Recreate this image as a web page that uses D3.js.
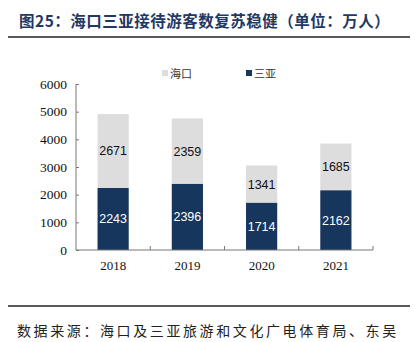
<!DOCTYPE html>
<html>
<head>
<meta charset="utf-8">
<script src="https://cdn.jsdelivr.net/npm/d3@7"></script>
<style>
  html, body { margin: 0; padding: 0; background: #fff; }
  svg { display: block; }
</style>
</head>
<body>
<svg id="chart" width="418" height="342"></svg>
<script>
// Visitor counts (10k people) received by Haikou and Sanya
const years = ["2018", "2019", "2020", "2021"];
const sanya = [2243, 2396, 1714, 2162];
const haikou = [2671, 2359, 1341, 1685];
const yTicks = [0, 1000, 2000, 3000, 4000, 5000, 6000];
const seriesNames = ["海口", "三亚"];

const W = 418, H = 342;
const svg = d3.select("#chart");
const colors = { "三亚": "#17365d", "海口": "#dddddd" };

const x = d3.scaleBand().domain(years).range([76, 373]).paddingInner(0.58).paddingOuter(0.29);
const y = d3.scaleLinear().domain([0, 6000]).range([250, 84]);

// Title
svg.append("text")
  .attr("x", 19).attr("y", 27)
  .attr("font-family", "'Noto Sans CJK SC', sans-serif")
  .attr("font-weight", "bold")
  .attr("font-size", 15.5)
  .attr("letter-spacing", 0.5)
  .attr("fill", "#1f3864")
  .text("图25：海口三亚接待游客数复苏稳健（单位：万人）");

svg.append("line").attr("x1", 8).attr("x2", 410).attr("y1", 37).attr("y2", 37)
  .attr("stroke", "#222").attr("stroke-width", 1.6);

// Legend
const legend = svg.append("g");
const legendX = [162, 246];
seriesNames.forEach((name, i) => {
  legend.append("rect").attr("x", legendX[i]).attr("y", 70).attr("width", 6).attr("height", 6)
    .attr("fill", colors[name]);
  legend.append("text").attr("x", legendX[i] + 8).attr("y", 77.5)
    .attr("font-family", "'Noto Sans CJK SC', sans-serif")
    .attr("font-size", 11).attr("fill", "#333")
    .text(name);
});

// Stacked bars
const rows = years.map((yr, i) => ({ year: yr, "三亚": sanya[i], "海口": haikou[i] }));
const stack = d3.stack().keys(["三亚", "海口"])(rows);

const layers = svg.append("g").selectAll("g").data(stack).join("g")
  .attr("fill", d => colors[d.key]);

layers.selectAll("rect").data(d => d).join("rect")
  .attr("x", d => x(d.data.year))
  .attr("width", x.bandwidth())
  .attr("y", d => y(d[1]))
  .attr("height", d => y(d[0]) - y(d[1]));

layers.selectAll("text").data(d => d.map(v => ({ key: d.key, v }))).join("text")
  .attr("x", d => x(d.v.data.year) + x.bandwidth() / 2)
  .attr("y", d => (y(d.v[0]) + y(d.v[1])) / 2 + 4.5)
  .attr("text-anchor", "middle")
  .attr("font-family", "'Liberation Sans', Arial, sans-serif")
  .attr("font-size", 12.5)
  .attr("fill", d => d.key === "三亚" ? "#fff" : "#111")
  .text(d => d.v.data[d.key]);

// Y axis
const yAxis = svg.append("g").attr("transform", "translate(76,0)")
  .call(d3.axisRight(y).tickValues(yTicks).tickSize(3).tickFormat(""));
yAxis.select(".domain").attr("stroke", "#777").attr("d", "M0,84V250");
yAxis.selectAll(".tick line").attr("stroke", "#777");
svg.append("g").selectAll("text").data(yTicks).join("text")
  .attr("x", 67).attr("y", d => y(d) + 4.5)
  .attr("text-anchor", "end")
  .attr("font-family", "'Liberation Serif', 'Times New Roman', serif")
  .attr("font-size", 13.5).attr("fill", "#111")
  .text(d => d);

// X axis
const xAxis = svg.append("g").attr("transform", "translate(0,250)")
  .call(d3.axisBottom(x).tickSize(0).tickFormat(""));
xAxis.select(".domain").attr("stroke", "#777").attr("d", "M76,0H373");
const bounds = [76 + x.step(), 76 + 2 * x.step(), 76 + 3 * x.step(), 373];
svg.append("g").selectAll("line").data(bounds).join("line")
  .attr("x1", d => d).attr("x2", d => d).attr("y1", 250).attr("y2", 246)
  .attr("stroke", "#777");
svg.append("g").selectAll("text").data(years).join("text")
  .attr("x", d => x(d) + x.bandwidth() / 2).attr("y", 270)
  .attr("text-anchor", "middle")
  .attr("font-family", "'Liberation Serif', 'Times New Roman', serif")
  .attr("font-size", 13).attr("fill", "#111")
  .text(d => d);

// Source note
svg.append("line").attr("x1", 8).attr("x2", 410).attr("y1", 306).attr("y2", 306)
  .attr("stroke", "#222").attr("stroke-width", 1.4);
svg.append("text")
  .attr("x", 17).attr("y", 336)
  .attr("font-family", "'Noto Sans CJK SC', sans-serif")
  .attr("font-size", 14)
  .attr("letter-spacing", 2.6)
  .attr("fill", "#222")
  .text("数据来源：海口及三亚旅游和文化广电体育局、东吴");
</script>
</body>
</html>
